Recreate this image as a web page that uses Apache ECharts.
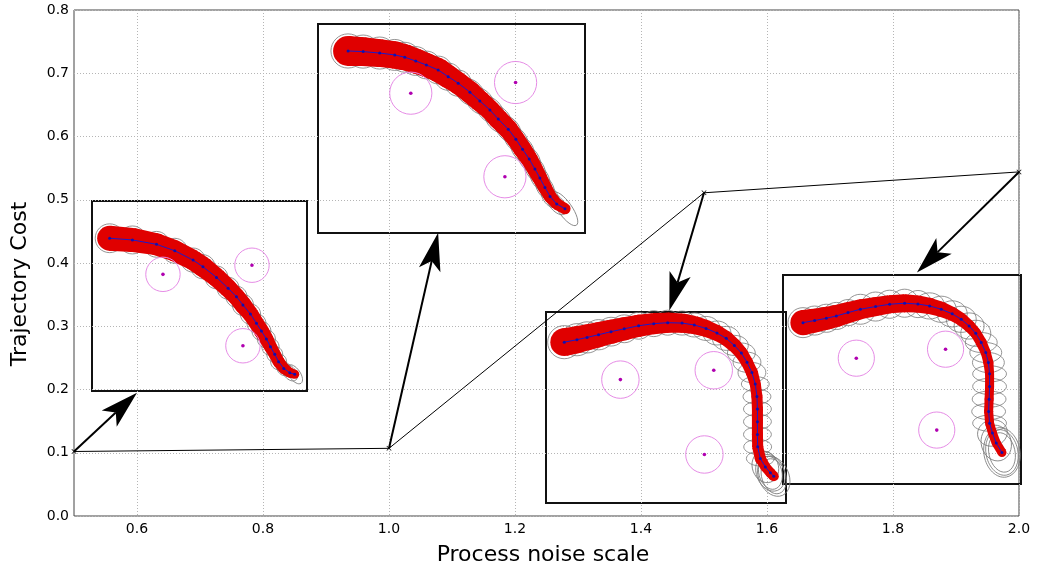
<!DOCTYPE html>
<html><head><meta charset="utf-8">
<script src="https://cdn.jsdelivr.net/npm/echarts@6/dist/echarts.min.js"></script>
<style>html,body{margin:0;padding:0;background:#fff}#c{width:1037px;height:571px}</style>
</head><body><div id="c"></div><script>
// ---------- main chart data ----------
const noiseScale = [0.5, 1.0, 1.5, 2.0];
const trajCost = [0.102, 0.107, 0.511, 0.544];
const xTickValues = [0.6, 0.8, 1.0, 1.2, 1.4, 1.6, 1.8, 2.0];
const yTickValues = [0.0, 0.1, 0.2, 0.3, 0.4, 0.5, 0.6, 0.7, 0.8];
// arrow tips (main data coords), one per noise scale point
const arrowTipX = [0.600, 1.078, 1.445, 1.838];
const arrowTipY = [0.195, 0.448, 0.325, 0.385];

// ---------- inset data (inset coords 0..100) ----------
// inset A (noise 0.5)
const insetAX = [8.2,18.8,30.0,38.5,47.0,51.6,57.9,63.3,67.2,70.2,73.7,76.5,78.8,81.1,83.0,85.0,86.8,89.2,92.0,94.3];
const insetAY = [80.4,79.5,77.2,73.8,68.9,65.4,59.8,54.1,49.6,45.3,40.5,35.6,31.6,27.4,23.3,19.3,15.4,11.9,9.6,8.8];
const insetASpread = [5.8,5.6,5.1,4.9,4.7,4.7,4.4,4.2,4.0,4.0,3.7,3.5,3.5,3.3,3.0,2.8,2.8,2.6,2.3,2.1];
const insetAEll = [[0,6.7,6.7,0],[1,6.5,6.5,0],[2,6.0,6.0,0],[3,5.8,5.8,0],[4,5.6,5.6,0],[5,5.6,5.6,0],[6,5.3,5.3,0],[7,5.1,5.1,0],[8,4.9,4.9,0],[9,4.9,4.9,0],[10,4.7,4.7,0],[11,4.4,4.4,0],[12,4.4,4.4,0],[13,4.2,4.2,0],[14,4.0,4.0,0],[15,3.7,3.7,0],[16,3.7,3.7,0],[17,3.7,3.0,-50],[18,4.4,2.8,-50],[19,5.1,2.6,-55]];
const insetAObs = [[33.0,61.4,8.0],[74.4,66.2,8.0],[70.2,23.8,8.0]];

// inset B (noise 1.0)
const insetBX = [11.25,16.9,23.1,28.75,32.5,36.6,40.6,45.0,48.75,52.5,56.9,60.6,64.4,67.5,71.25,74.1,76.6,79.1,81.25,83.1,85.0,86.9,89.4,92.5];
const insetBY = [87.1,86.8,86.1,85.2,84.1,82.3,80.4,78.0,74.8,71.7,67.4,63.2,58.9,54.5,49.7,44.9,40.1,35.4,30.6,26.3,21.8,17.5,13.9,11.6];
const insetBSpread = [5.6,5.4,5.2,5.1,4.9,4.7,4.5,4.5,4.3,4.1,4.1,3.9,3.7,3.7,3.6,3.4,3.4,3.2,3.0,2.8,2.6,2.4,2.2,2.1];
const insetBEll = [[0,6.4,6.4,0],[1,6.2,6.2,0],[2,6.0,6.0,0],[3,5.8,5.8,0],[4,5.6,5.6,0],[5,5.4,5.4,0],[6,5.2,5.2,0],[7,5.2,5.2,0],[8,5.1,5.1,0],[9,4.9,4.9,0],
  [10,6.0,4.5,-40],[11,6.0,4.4,-42],[12,6.0,4.2,-45],[13,6.0,4.2,-48],[14,5.8,4.0,-50],[15,5.8,3.8,-52],[16,5.6,3.8,-55],[17,5.6,3.6,-57],[18,5.4,3.4,-60],[19,5.2,3.2,-60],[20,5.0,3.0,-60],[21,4.6,2.8,-58],[22,4.8,2.6,-50],[23,7.5,2.6,-55]];
const insetBObs = [[34.75,66.9,7.9],[74.0,72.0,7.9],[70.0,26.9,7.9]];

// inset C (noise 1.5)
const insetCX = [7.6,12.9,17.1,21.9,27.1,32.6,38.6,44.9,50.7,56.7,61.8,66.7,71.25,75.1,78.5,81.4,83.75,85.8,87.2,87.9,88.1,88.1,88.1,88.2,89.3,91.4,93.5,94.9];
const insetCY = [84.2,85.5,86.7,88.1,89.7,91.2,92.8,93.9,94.4,94.2,93.2,91.4,89.0,86.2,82.5,78.5,73.7,68.3,62.3,55.7,49.2,42.6,35.9,29.4,23.3,18.9,15.8,14.0];
const insetCSpread = [5.8,5.6,5.4,5.2,5.0,4.8,4.6,4.4,4.2,4.0,3.75,3.5,3.3,3.1,2.9,2.7,2.5,2.5,2.3,2.3,2.3,2.3,2.3,2.3,2.3,2.1,2.1,2.1];
const insetCEll = [[0,6.9,6.9,0],[1,6.7,6.7,0],[2,6.5,6.5,0],[3,6.3,6.3,0],[4,6.0,6.0,0],[5,5.8,5.8,0],[6,5.6,5.6,0],[7,5.4,5.4,0],[8,5.2,5.2,0],
  [9,5.8,5.0,0],[10,5.8,5.0,0],[11,5.8,5.0,0],[12,5.8,5.0,0],[13,5.8,5.0,0],[14,5.8,4.2,0],[15,5.8,4.2,0],[16,5.8,4.2,0],[17,5.8,4.2,0],
  [18,5.8,3.1,0],[19,5.8,3.1,0],[20,5.8,3.1,0],[21,5.8,3.1,0],[22,5.8,3.1,0],[23,5.8,3.1,0],[24,5.8,3.1,0],
  [25,5.4,6.7,20],[26,5.8,7.9,22],[27,6.25,8.75,25],[27,5.0,7.5,18],[26,4.8,7.0,15]];
const insetCObs = [[31.0,64.6,7.8],[69.9,69.5,7.8],[66.0,25.4,7.8]];

// inset D (noise 2.0)
const insetDX = [8.4,13.3,18.2,22.4,27.3,32.5,38.9,44.8,51.1,56.7,61.6,66.5,71.1,74.9,78.2,81.0,83.3,85.2,86.3,86.8,86.8,86.6,86.4,86.8,88.0,89.6,92.0];
const insetDY = [77.2,78.2,79.3,80.4,82.0,83.6,84.9,86.0,86.5,86.1,85.2,83.6,81.4,78.8,75.6,72.1,67.7,62.9,58.1,52.7,46.7,40.6,34.7,29.1,24.4,19.6,15.1];
const insetDSpread = [5.3,5.0,4.8,4.6,4.4,4.2,4.0,3.8,3.8,3.6,3.4,3.2,2.9,2.7,2.5,2.3,2.3,2.1,2.1,1.9,1.9,1.9,1.9,1.9,1.9,1.9,1.9];
const insetDEll = [[0,6.3,6.3,0],[1,6.1,6.1,0],[2,5.9,5.9,0],[3,5.7,5.7,0],[4,5.5,5.5,0],[5,6.3,6.3,0],[6,6.1,6.1,0],[7,5.9,5.9,0],[8,5.9,5.9,0],[9,5.7,5.7,0],
  [10,6.3,5.5,0],[11,6.3,5.5,0],[12,6.3,5.5,0],[13,6.3,5.5,0],[14,6.3,5.5,0],[15,6.3,5.5,0],[16,6.7,4.2,0],[17,6.7,4.2,0],[18,6.7,4.2,0],
  [19,7.1,3.4,0],[20,7.1,3.4,0],[21,7.1,3.4,0],[22,7.1,3.4,0],[23,7.1,3.4,0],
  [24,6.3,5.5,15],[25,6.3,7.6,15],[26,6.7,9.7,12],[26,5.5,8.4,12],[26,7.6,10.5,10]];
const insetDObs = [[30.8,60.2,7.6],[68.3,64.5,7.6],[64.6,25.8,7.6]];

// ---------- layout ----------
const insets = [
  {x: insetAX, y: insetAY, spread: insetASpread, ell: insetAEll, obs: insetAObs, pos: {left: 92, top: 201, width: 215, height: 190}},
  {x: insetBX, y: insetBY, spread: insetBSpread, ell: insetBEll, obs: insetBObs, pos: {left: 318, top: 24, width: 267, height: 209}},
  {x: insetCX, y: insetCY, spread: insetCSpread, ell: insetCEll, obs: insetCObs, pos: {left: 546, top: 312, width: 240, height: 191}},
  {x: insetDX, y: insetDY, spread: insetDSpread, ell: insetDEll, obs: insetDObs, pos: {left: 783, top: 275, width: 238, height: 209}}
];
const FONT = 'DejaVu Sans';
const RED = '#e00000';

function ellipseItem(params, api) {
  const c = api.coord([api.value(0), api.value(1)]);
  const rx = api.size([api.value(2), 0])[0];
  const ry = api.size([api.value(3), 0])[0];
  return {type: 'ellipse', x: c[0], y: c[1], rotation: api.value(4) * Math.PI / 180,
    shape: {cx: 0, cy: 0, rx: rx, ry: ry},
    style: {fill: 'none', stroke: '#7a7a7a', lineWidth: 0.8}};
}
function bandItem(params, api) {
  const p0 = api.coord([api.value(0), api.value(1)]);
  const r0 = api.size([api.value(2), 0])[0];
  const p1 = api.coord([api.value(3), api.value(4)]);
  const r1 = api.size([api.value(5), 0])[0];
  const children = [{type: 'circle', shape: {cx: p0[0], cy: p0[1], r: r0}, style: {fill: RED}}];
  const dx = p1[0] - p0[0], dy = p1[1] - p0[1], L = Math.hypot(dx, dy);
  if (L > 0.01) {
    const nx = -dy / L, ny = dx / L;
    children.push({type: 'polygon', shape: {points: [
      [p0[0] + nx * r0, p0[1] + ny * r0], [p1[0] + nx * r1, p1[1] + ny * r1],
      [p1[0] - nx * r1, p1[1] - ny * r1], [p0[0] - nx * r0, p0[1] - ny * r0]]}, style: {fill: RED}});
  }
  return {type: 'group', children: children};
}
function obstacleItem(params, api) {
  const c = api.coord([api.value(0), api.value(1)]);
  const r = api.size([api.value(2), 0])[0];
  return {type: 'group', children: [
    {type: 'circle', shape: {cx: c[0], cy: c[1], r: r}, style: {fill: 'none', stroke: '#e68ce6', lineWidth: 1}},
    {type: 'circle', shape: {cx: c[0], cy: c[1], r: 1.8}, style: {fill: '#b000b0'}}
  ]};
}
function arrowItem(params, api) {
  const a = api.coord([api.value(0), api.value(1)]);
  const b = api.coord([api.value(2), api.value(3)]);
  const dx = b[0] - a[0], dy = b[1] - a[1], L = Math.hypot(dx, dy);
  const ux = dx / L, uy = dy / L, nx = -uy, ny = ux;
  const HL = 38, HW = 11, NOTCH = 29;
  const base = [b[0] - ux * HL, b[1] - uy * HL];
  const n = [b[0] - ux * NOTCH, b[1] - uy * NOTCH];
  return {type: 'group', children: [
    {type: 'line', shape: {x1: a[0], y1: a[1], x2: n[0], y2: n[1]}, style: {stroke: '#000', lineWidth: 2}},
    {type: 'polygon', shape: {points: [b, [base[0] + nx * HW, base[1] + ny * HW], n, [base[0] - nx * HW, base[1] - ny * HW]]}, style: {fill: '#000'}}
  ]};
}

const grids = [{left: 74, top: 10, width: 945, height: 506, show: true, borderColor: '#444', borderWidth: 1, outerBoundsMode: 'none', containLabel: false}];
const xAxes = [{
  gridIndex: 0, type: 'value', min: 0.5, max: 2.0,
  axisLine: {show: false}, axisTick: {show: false, customValues: xTickValues},
  axisLabel: {customValues: xTickValues, formatter: v => v.toFixed(1), fontFamily: FONT, fontSize: 14, color: '#000', margin: 6},
  splitLine: {show: true, lineStyle: {color: '#b5b5b5', type: [1, 2], width: 1}}
}];
const yAxes = [{
  gridIndex: 0, type: 'value', min: 0, max: 0.8, interval: 0.1,
  axisLine: {show: false}, axisTick: {show: false, customValues: yTickValues},
  axisLabel: {customValues: yTickValues, formatter: v => v.toFixed(1), fontFamily: FONT, fontSize: 14, color: '#000', margin: 5},
  splitLine: {show: true, lineStyle: {color: '#b5b5b5', type: [1, 2], width: 1}}
}];

const series = [
  {type: 'line', xAxisIndex: 0, yAxisIndex: 0, data: noiseScale.map((v, i) => [v, trajCost[i]]),
   lineStyle: {color: '#000', width: 1}, itemStyle: {color: '#000'},
   symbol: 'path://M1,0L5,4L9,0L10,1L6,5L10,9L9,10L5,6L1,10L0,9L4,5L0,1Z', symbolSize: 5, z: 5},
  {type: 'custom', xAxisIndex: 0, yAxisIndex: 0, renderItem: arrowItem, z: 20,
   encode: {x: [0, 2], y: [1, 3]},
   data: noiseScale.map((v, i) => [v, trajCost[i], arrowTipX[i], arrowTipY[i]])}
];

insets.forEach((ins, k) => {
  const gi = k + 1;
  grids.push(Object.assign({show: true, borderColor: '#111', borderWidth: 2, backgroundColor: 'transparent', outerBoundsMode: 'none', containLabel: false}, ins.pos));
  xAxes.push({gridIndex: gi, type: 'value', min: 0, max: 100, show: false, splitLine: {show: false}});
  yAxes.push({gridIndex: gi, type: 'value', min: 0, max: 100, show: false, splitLine: {show: false}});
  const n = ins.x.length;
  series.push({type: 'custom', xAxisIndex: gi, yAxisIndex: gi, renderItem: ellipseItem, z: 8 + k * 5,
    encode: {x: 0, y: 1},
    data: ins.ell.map(e => [ins.x[e[0]], ins.y[e[0]], e[1], e[2], e[3]])});
  series.push({type: 'custom', xAxisIndex: gi, yAxisIndex: gi, renderItem: bandItem, z: 9 + k * 5,
    encode: {x: 0, y: 1},
    data: ins.x.map((v, i) => { const j = Math.min(i + 1, n - 1); return [v, ins.y[i], ins.spread[i], ins.x[j], ins.y[j], ins.spread[j]]; })});
  series.push({type: 'line', xAxisIndex: gi, yAxisIndex: gi, z: 10 + k * 5,
    data: ins.x.map((v, i) => [v, ins.y[i]]),
    lineStyle: {color: '#1a1acc', width: 1}, itemStyle: {color: '#1010b0'}, symbol: 'circle', symbolSize: 3});
  series.push({type: 'custom', xAxisIndex: gi, yAxisIndex: gi, renderItem: obstacleItem, z: 10 + k * 5,
    encode: {x: 0, y: 1}, data: ins.obs});
});

const chart = echarts.init(document.getElementById('c'), null, {renderer: 'canvas'});
chart.setOption({
  animation: false,
  backgroundColor: '#fff',
  textStyle: {fontFamily: FONT},
  grid: grids, xAxis: xAxes, yAxis: yAxes, series: series,
  graphic: [
    {type: 'text', x: 543, y: 555, style: {text: 'Process noise scale', font: '22px "DejaVu Sans"', fill: '#000', textAlign: 'center', textVerticalAlign: 'middle'}},
    {type: 'text', x: 20, y: 284, rotation: Math.PI / 2, style: {text: 'Trajectory Cost', font: '22px "DejaVu Sans"', fill: '#000', textAlign: 'center', textVerticalAlign: 'middle'}}
  ]
});
</script></body></html>
